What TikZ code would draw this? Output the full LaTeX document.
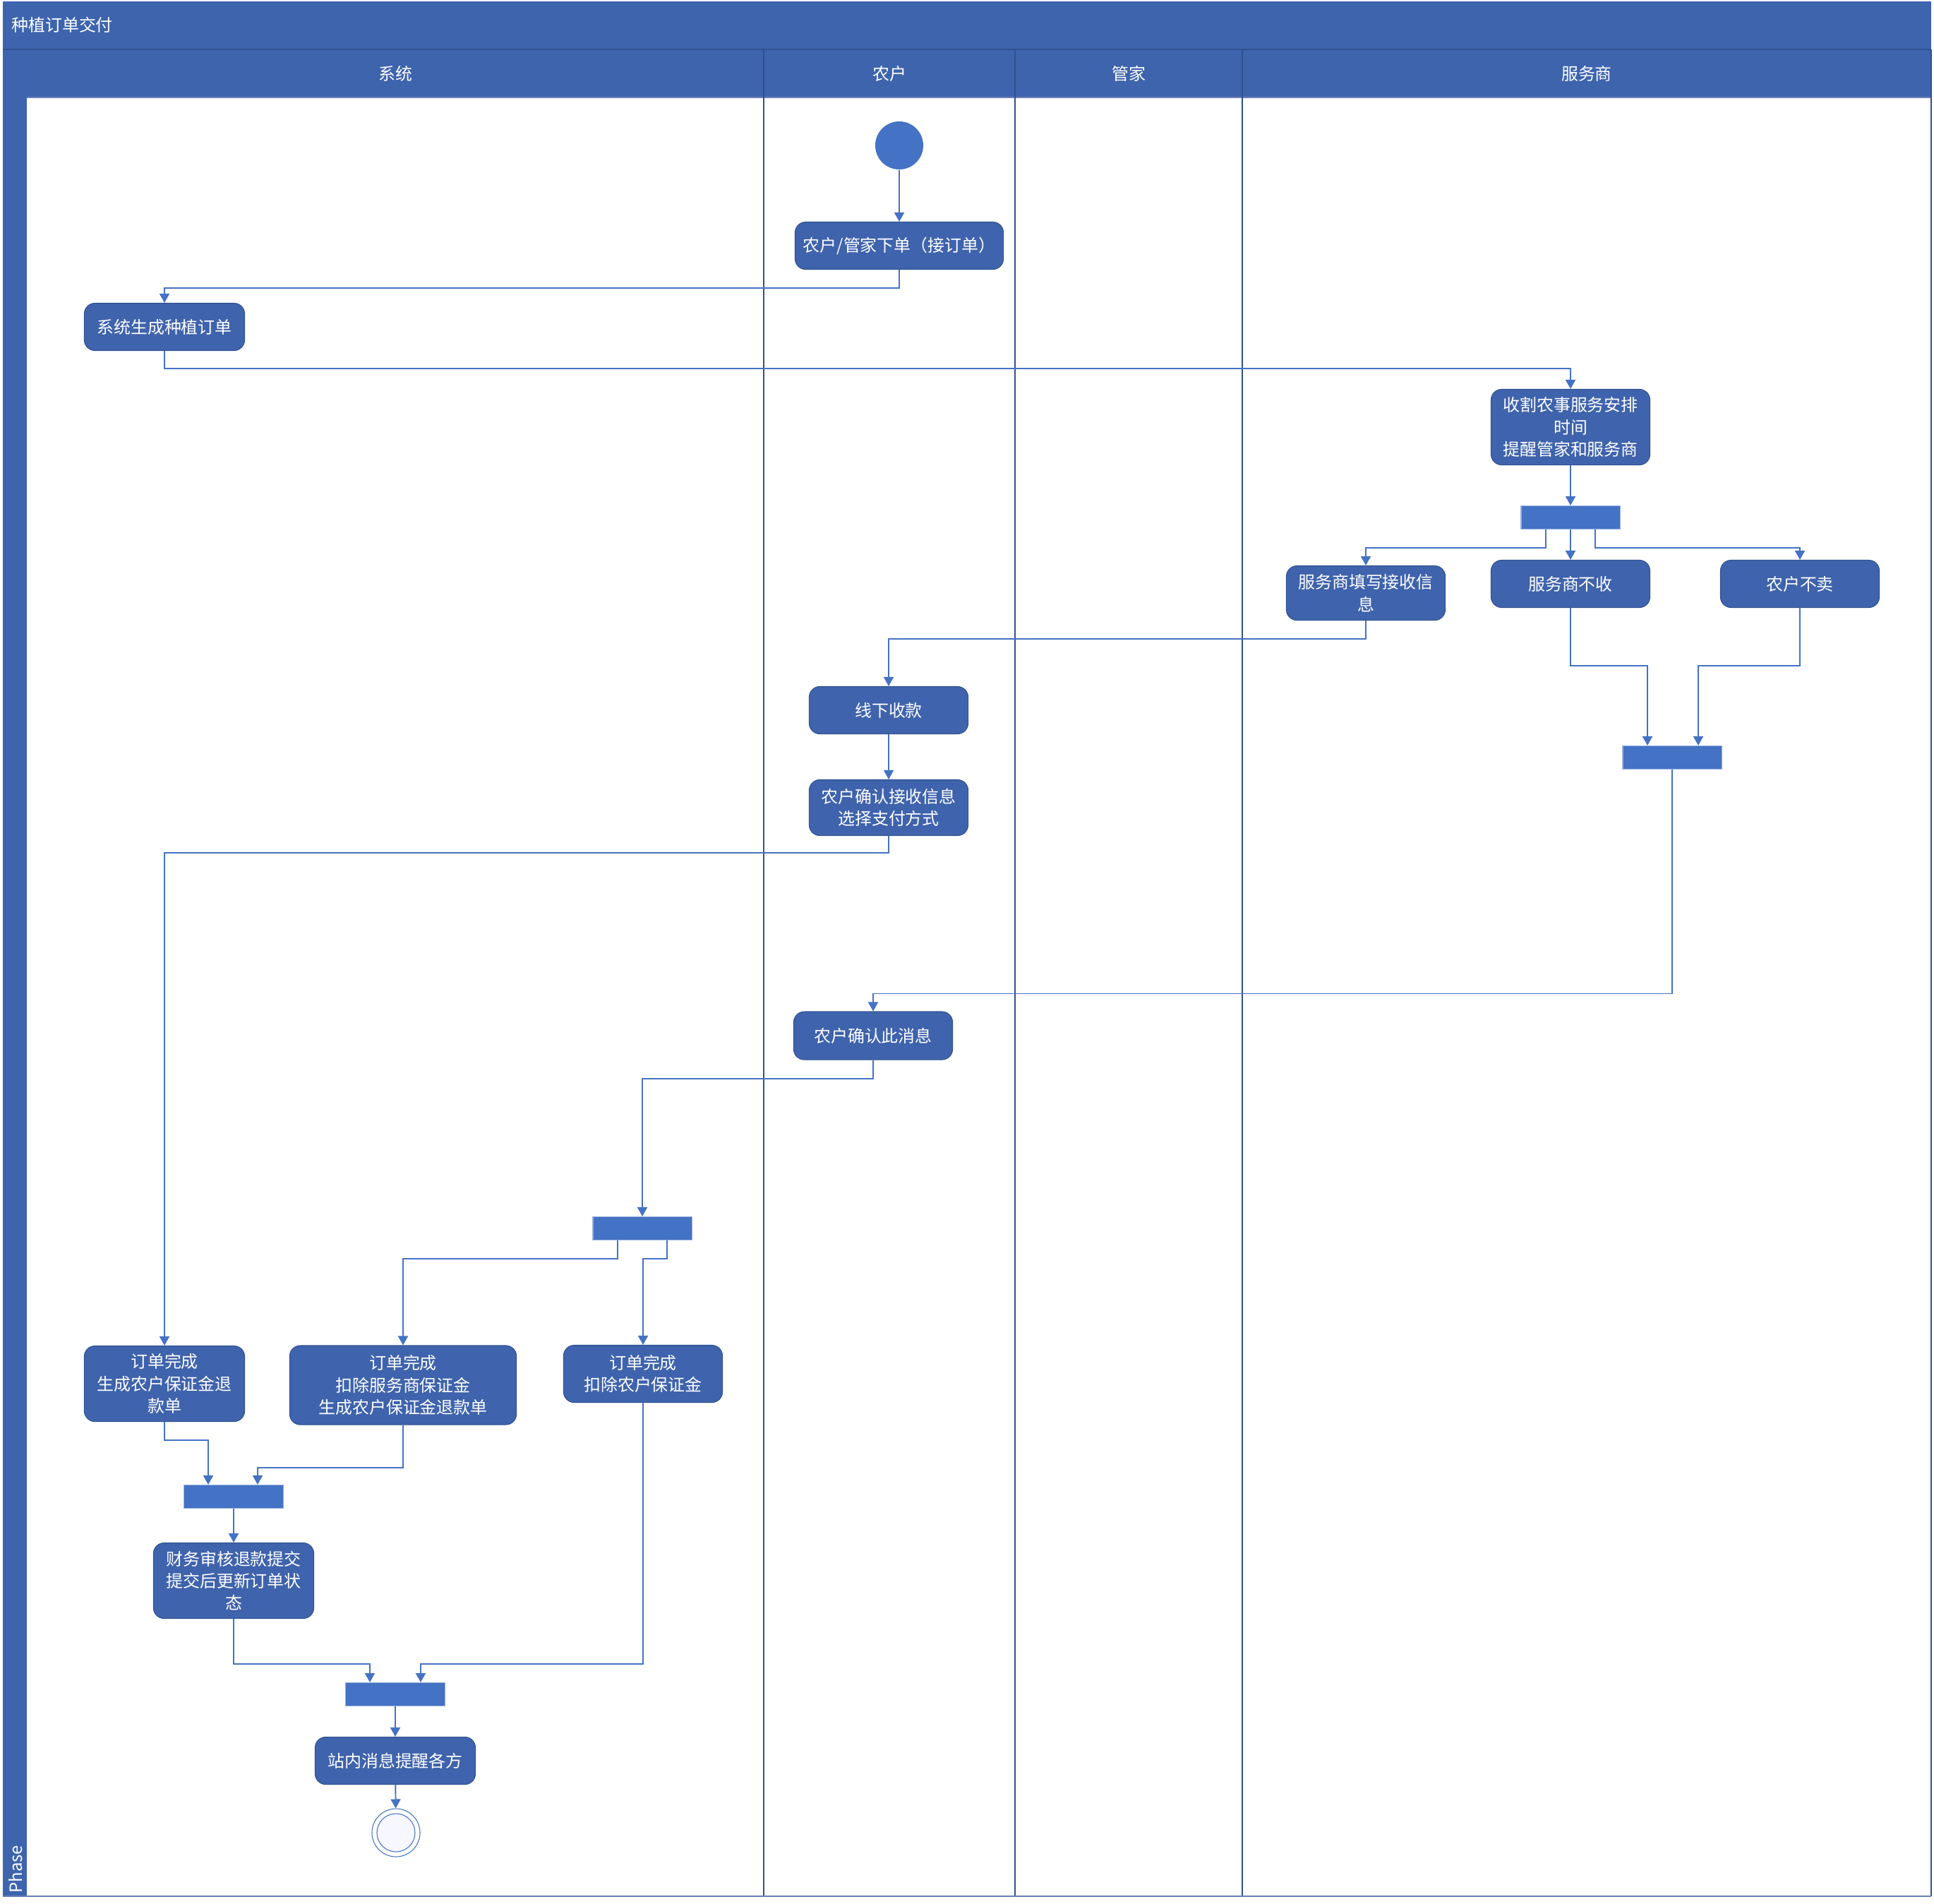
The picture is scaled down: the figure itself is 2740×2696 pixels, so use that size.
\documentclass[tikz,border=0pt]{standalone}
\usepackage{fontspec}
\setmainfont{Noto Sans CJK SC}
\usepackage{tikz}
\usetikzlibrary{arrows.meta,positioning,calc}
\definecolor{laneblue}{RGB}{62,100,174}
\definecolor{nodeblue}{RGB}{63,99,172}
\definecolor{barblue}{RGB}{68,114,196}
\definecolor{edgeblue}{RGB}{47,82,143}
\definecolor{rimblue}{RGB}{106,125,180}

\begin{document}
\begin{tikzpicture}[x=0.01cm,y=-0.01cm,font=\fontsize{6.8}{8.9}\selectfont,
  act/.style={draw=edgeblue,fill=nodeblue,text=white,rounded corners=0.15cm,align=center,
    minimum width=2.25cm,minimum height=0.67cm,inner sep=0pt,line width=0.3pt},
  bar/.style={draw=barblue!55!white,fill=barblue,minimum width=1.4cm,minimum height=0.33cm,inner sep=0pt,line width=0.3pt},
  flow/.style={draw=barblue,line width=0.55pt,-{Triangle[length=0.13cm,width=0.14cm]}}]
\useasboundingbox (0,0) rectangle (2740,2696);
\fill[laneblue] (4,2) rectangle (2736,138);
\fill[laneblue] (4,70) rectangle (38,2686);
\draw[edgeblue,line width=0.5pt] (4,70) -- (2736,70);
\draw[rimblue,line width=0.5pt] (38,138) -- (2736,138);
\foreach \x in {1082,1438,1760,2736}
  \draw[edgeblue,line width=0.5pt] (\x,70) -- (\x,2686);
\draw[rimblue,line width=0.7pt] (4,2686) -- (2736,2686);
\node[text=white,anchor=west] (title) at (4,35) {种植订单交付};
\foreach \x/\lab/\nm in {560/系统/sys,1260/农户/farmer,1599/管家/steward,2248/服务商/provider}
  \node[text=white] (\nm) at (\x,104) {\lab};
\node[text=white,rotate=90,anchor=west] (phase) at (22,2694) {Phase};

\node[circle,fill=barblue,minimum size=0.68cm,inner sep=0pt] (start) at (1274,206) {};
\node[act,minimum width=2.95cm] (order) at (1274,348) {农户/管家下单（接订单）};
\node[act,minimum width=2.27cm] (genorder) at (233,463) {系统生成种植订单};
\node[act,minimum height=1.07cm] (arrange) at (2225,605) {收割农事服务安排\\时间\\提醒管家和服务商};
\node[bar] (fkA) at (2225,733) {};
\node[act,minimum height=0.77cm] (fillin) at (1935,840) {服务商填写接收信\\息};
\node[act] (norecv) at (2225,827) {服务商不收};
\node[act] (nosell) at (2550,827) {农户不卖};
\node[bar] (jnA) at (2369,1073) {};
\node[act] (offline) at (1259,1006) {线下收款};
\node[act,minimum height=0.79cm] (payway) at (1259,1144) {农户确认接收信息\\选择支付方式};
\node[act,minimum height=0.68cm] (ackmsg) at (1237,1467) {农户确认此消息};
\node[bar] (fkB) at (910,1740) {};
\node[act,minimum width=2.27cm,minimum height=1.07cm] (refund) at (233,1960) {订单完成\\生成农户保证金退\\款单};
\node[act,minimum width=3.21cm,minimum height=1.12cm] (deduct) at (571,1962) {订单完成\\扣除服务商保证金\\生成农户保证金退款单};
\node[act,minimum height=0.81cm] (deductfm) at (911,1946) {订单完成\\扣除农户保证金};
\node[bar] (jnB) at (331,2120) {};
\node[act,minimum width=2.27cm,minimum height=1.07cm] (audit) at (331,2239) {财务审核退款提交\\提交后更新订单状\\态};
\node[bar] (jnC) at (560,2400) {};
\node[act,minimum width=2.27cm] (notify) at (560,2494) {站内消息提醒各方};
\node[circle,draw=barblue,line width=0.3pt,minimum size=0.68cm,inner sep=0pt] (stop) at (561,2596) {};
\node[circle,draw=barblue,fill=blue!3,line width=0.3pt,minimum size=0.54cm,inner sep=0pt] (stopin) at (stop) {};

\draw[flow] (start) -- (order);
\draw[flow] (order.south) -- ++(0,26) -| (genorder.north);
\draw[flow] (genorder.south) -- ++(0,25) -| (arrange.north);
\draw[flow] (arrange) -- (fkA);
\draw[flow] ($(fkA.south)+(-35,0)$) -- ++(0,26) -| (fillin.north);
\draw[flow] (fkA) -- (norecv);
\draw[flow] ($(fkA.south)+(35,0)$) -- ++(0,26) -| (nosell.north);
\draw[flow] (norecv.south) -- ++(0,82) -| ($(jnA.north)+(-35,0)$);
\draw[flow] (nosell.south) -- ++(0,82) -| ($(jnA.north)+(37,0)$);
\draw[flow] (fillin.south) -- ++(0,26) -| (offline.north);
\draw[flow] (offline) -- (payway);
\draw[flow] (payway.south) -- ++(0,24) -| (refund.north);
\draw[flow] (jnA.south) |- ($(ackmsg.north)+(0,-25)$) -- (ackmsg.north);
\draw[flow] (ackmsg.south) -- ++(0,26) -| (fkB.north);
\draw[flow] ($(fkB.south)+(-35,0)$) -- ++(0,26) -| (deduct.north);
\draw[flow] ($(fkB.south)+(35,0)$) -- ++(0,26) -| (deductfm.north);
\draw[flow] (refund.south) -- ++(0,26) -| ($(jnB.north)+(-36,0)$);
\draw[flow] (deduct.south) -- ++(0,60) -| ($(jnB.north)+(34,0)$);
\draw[flow] (jnB) -- (audit);
\draw[flow] (audit.south) -- ++(0,64) -| ($(jnC.north)+(-36,0)$);
\draw[flow] (deductfm.south) -- ++(0,370) -| ($(jnC.north)+(36,0)$);
\draw[flow] (jnC) -- (notify);
\draw[flow] (notify) -- (stop);
\end{tikzpicture}
\end{document}
